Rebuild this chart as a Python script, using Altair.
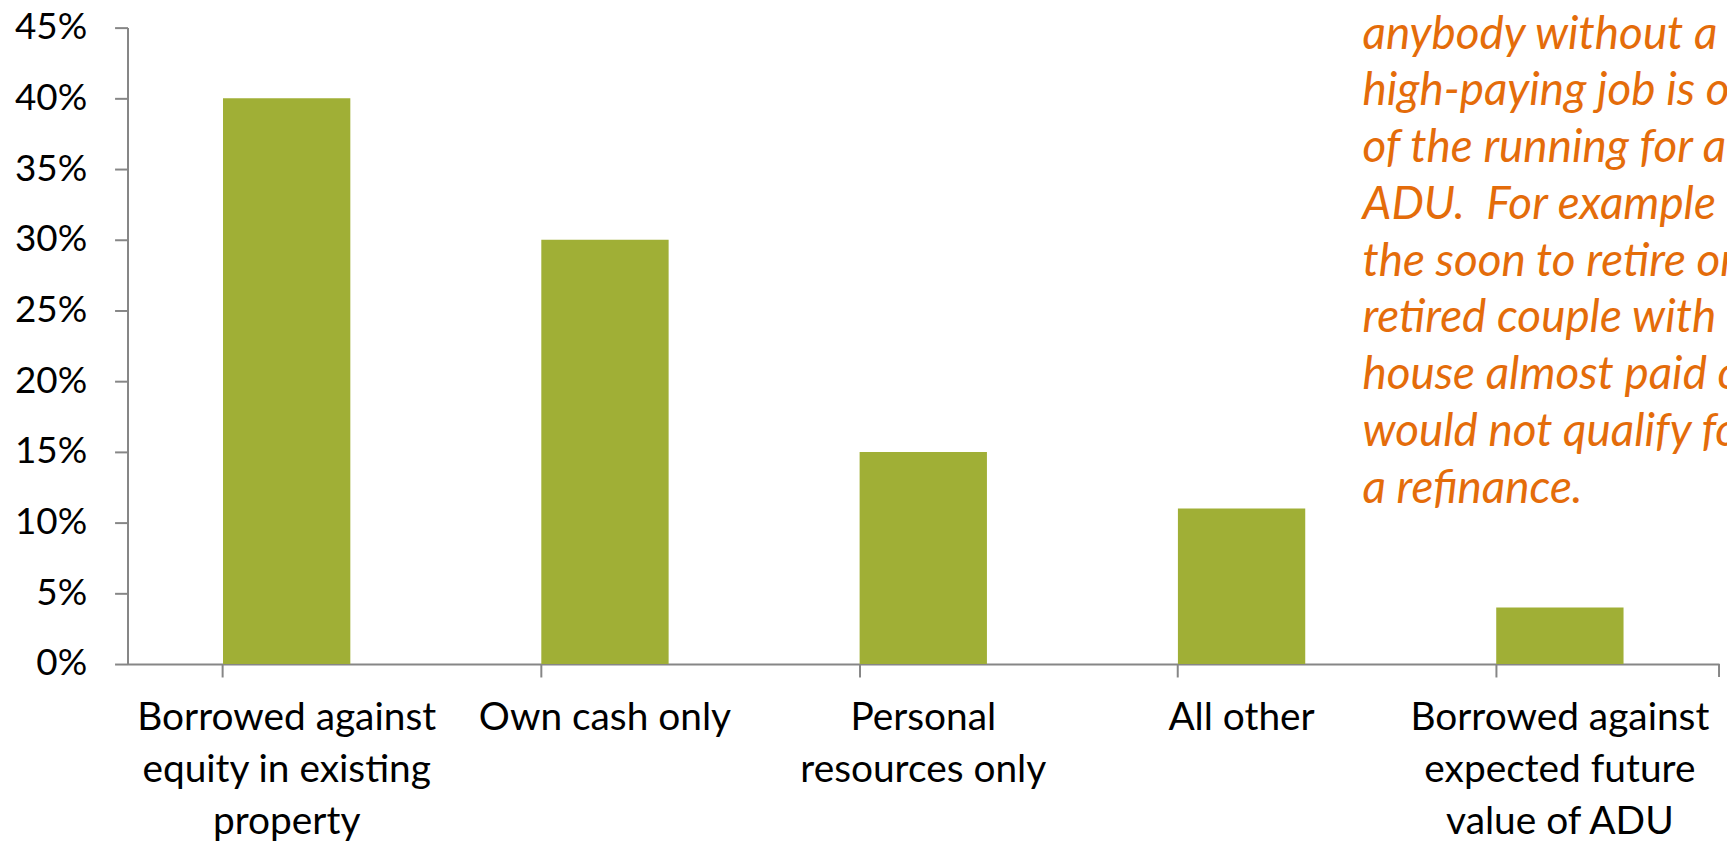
import altair as alt
import pandas as pd

categories = [
    "Borrowed against equity in existing property",
    "Own cash only",
    "Personal resources only",
    "All other",
    "Borrowed against expected future value of ADU",
]
shares = [0.40, 0.30, 0.15, 0.11, 0.04]
label_lines = {
    "Borrowed against equity in existing property": ["Borrowed against", "equity in existing", "property"],
    "Own cash only": ["Own cash only"],
    "Personal resources only": ["Personal", "resources only"],
    "All other": ["All other"],
    "Borrowed against expected future value of ADU": ["Borrowed against", "expected future", "value of ADU"],
}
y_ticks = [0, 0.05, 0.10, 0.15, 0.20, 0.25, 0.30, 0.35, 0.40, 0.45]
note_lines = [
    "anybody without a",
    "high-paying job is out",
    "of the running for an",
    "ADU.\u00a0 For example",
    "the soon to retire or",
    "retired couple with",
    "house almost paid off",
    "would not qualify for",
    "a refinance.",
]

W, H = 1598, 639
FONT = "Lato"
AXIS_GRAY = "#868686"

df = pd.DataFrame({"category": categories, "share": shares})

# build label expression mapping each category to its wrapped lines
expr = "[datum.label]"
for cat, lines in reversed(list(label_lines.items())):
    arr = "[" + ",".join("'" + l + "'" for l in lines) + "]"
    expr = f"datum.label == '{cat}' ? {arr} : ({expr})"

x_enc = alt.X(
    "category:N",
    sort=categories,
    scale=alt.Scale(paddingInner=0.6, paddingOuter=0.3),
    axis=alt.Axis(
        title=None,
        labelAngle=0,
        labelExpr=expr,
        labelFont=FONT,
        labelFontSize=39,
        labelColor="#000000",
        labelLineHeight=52,
        labelPadding=22,
        labelLimit=400,
        tickSize=13,
        tickWidth=2,
        tickColor=AXIS_GRAY,
        domainColor=AXIS_GRAY,
        domainWidth=2,
        bandPosition=0,
    ),
)
y_enc = alt.Y(
    "share:Q",
    scale=alt.Scale(domain=[0, 0.45], nice=False),
    axis=alt.Axis(
        title=None,
        values=y_ticks,
        format=".0%",
        labelFont=FONT,
        labelFontSize=37,
        labelColor="#000000",
        labelPadding=28,
        tickSize=13,
        tickWidth=2,
        tickColor=AXIS_GRAY,
        domainColor=AXIS_GRAY,
        domainWidth=2,
        grid=False,
    ),
)

bars = alt.Chart(df).mark_bar(color="#A0AF36").encode(x=x_enc, y=y_enc)

end_tick = alt.Chart(pd.DataFrame({"a": [0]})).mark_rule(
    color=AXIS_GRAY, strokeWidth=2
).encode(x=alt.value(W), y=alt.value(H), y2=alt.value(H + 13))

note = alt.Chart(pd.DataFrame({"a": [0]})).mark_text(
    font=FONT,
    fontSize=46,
    fontStyle="italic",
    color="#E46C0A",
    align="left",
    baseline="alphabetic",
    lineHeight=57,
).encode(x=alt.value(1240), y=alt.value(21), text=alt.value(note_lines))

chart = (
    alt.layer(bars, end_tick, note)
    .properties(
        width=W,
        height=H,
        autosize=alt.AutoSizeParams(type="none"),
        padding={"left": 120, "top": 18, "right": 8, "bottom": 180},
    )
    .configure_view(stroke=None)
)

chart.save("out.html", embed_options={"renderer": "svg", "actions": False})
